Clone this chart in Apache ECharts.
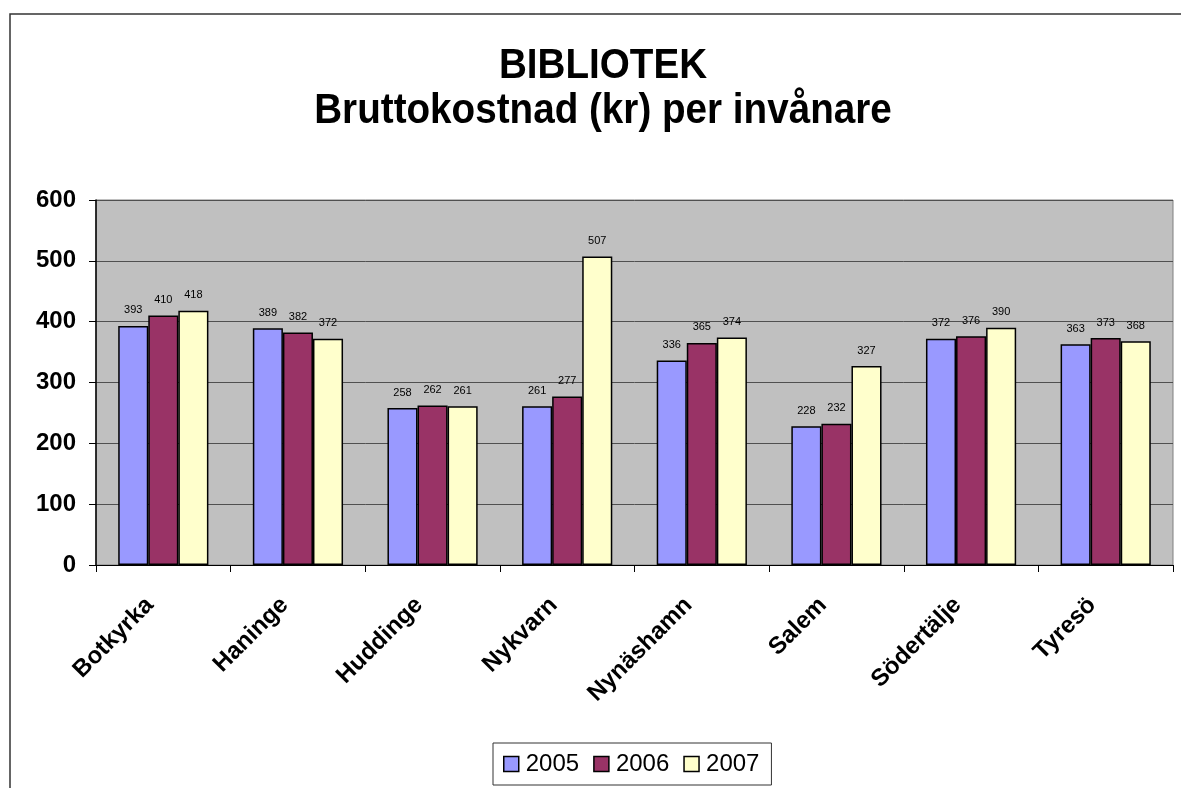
<!DOCTYPE html>
<html>
<head>
<meta charset="utf-8">
<script src="https://cdn.jsdelivr.net/npm/echarts@6/dist/echarts.min.js"></script>
<style>
  html, body { margin: 0; padding: 0; background: #fff; }
  #main { width: 1181px; height: 788px; }
</style>
</head>
<body>
<div id="main"></div>
<script>
const kommuner = ['Botkyrka', 'Haninge', 'Huddinge', 'Nykvarn', 'Nynäshamn', 'Salem', 'Södertälje', 'Tyresö'];
const ar2005 = [393, 389, 258, 261, 336, 228, 372, 363];
const ar2006 = [410, 382, 262, 277, 365, 232, 376, 373];
const ar2007 = [418, 372, 261, 507, 374, 327, 390, 368];
const yTicks = [0, 100, 200, 300, 400, 500, 600];
const rubrik = ['BIBLIOTEK', 'Bruttokostnad (kr) per invånare'];

const font = 'Liberation Sans, Arial, sans-serif';

function serie(namn, data, farg) {
    return {
        name: namn,
        type: 'bar',
        data: data,
        barGap: '0%',
        barCategoryGap: '33%',
        itemStyle: { color: farg, borderColor: '#000', borderWidth: 1.5 },
        label: {
            show: true,
            position: 'top',
            distance: 10,
            color: '#000',
            fontFamily: font,
            fontSize: 11
        }
    };
}

// titeln som graphic-text, lite hoptryckt i sidled som i originalet
function titelRad(text, y) {
    return {
        type: 'text',
        x: 603,
        y: y,
        scaleX: 0.92,
        style: {
            text: text,
            textAlign: 'center',
            textVerticalAlign: 'middle',
            fontFamily: font,
            fontSize: 42,
            fontWeight: 'bold',
            fill: '#000'
        }
    };
}

const myChart = echarts.init(document.getElementById('main'));

myChart.setOption({
    animation: false,
    backgroundColor: '#fff',
    graphic: [
        {
            type: 'rect',
            shape: { x: 10, y: 14, width: 1200, height: 800 },
            style: { fill: 'none', stroke: '#333', lineWidth: 1.5 },
            z: -1
        },
        titelRad(rubrik[0], 66),
        titelRad(rubrik[1], 111)
    ],
    legend: {
        left: 493,
        top: 743,
        padding: [9, 12, 9, 10],
        borderColor: '#333',
        borderWidth: 1,
        itemWidth: 15,
        itemHeight: 15,
        itemGap: 14,
        icon: 'rect',
        itemStyle: { borderColor: '#000', borderWidth: 1.5 },
        textStyle: { fontFamily: font, fontSize: 24, color: '#000', padding: [0, 0, 0, 2] },
        data: ['2005', '2006', '2007']
    },
    grid: {
        left: 96,
        right: 8,
        top: 200,
        bottom: 223,
        show: true,
        backgroundColor: '#C0C0C0',
        borderColor: '#808080',
        borderWidth: 1
    },
    xAxis: {
        type: 'category',
        data: kommuner,
        axisLine: { lineStyle: { color: '#000', width: 1 } },
        axisTick: { show: true, length: 7, lineStyle: { color: '#000' } },
        axisLabel: {
            rotate: 45,
            margin: 40,
            align: 'right',
            verticalAlign: 'bottom',
            padding: [0, 7, 0, 0],
            fontFamily: font,
            fontSize: 24,
            fontWeight: 'bold',
            color: '#000'
        }
    },
    yAxis: {
        type: 'value',
        min: yTicks[0],
        max: yTicks[yTicks.length - 1],
        interval: 100,
        axisLine: { show: true, lineStyle: { color: '#000', width: 1.5 } },
        axisTick: { show: true, length: 7, lineStyle: { color: '#000' } },
        splitLine: { lineStyle: { color: '#505050', width: 1 } },
        axisLabel: {
            margin: 20,
            fontFamily: font,
            fontSize: 24,
            fontWeight: 'bold',
            color: '#000'
        }
    },
    series: [
        serie('2005', ar2005, '#9999FF'),
        serie('2006', ar2006, '#993366'),
        serie('2007', ar2007, '#FFFFCC')
    ]
});

window.addEventListener('resize', () => myChart.resize());
</script>
</body>
</html>
